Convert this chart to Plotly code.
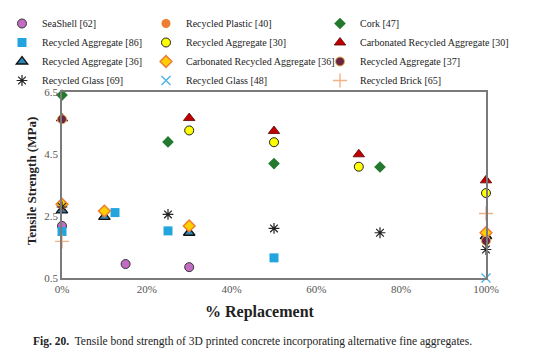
import plotly.graph_objects as go

# ---- data (x = % replacement, y = tensile bond strength, MPa) ----
seashell_x = [0, 15, 30]
seashell_y = [2.18, 0.95, 0.85]

plastic_x = [0, 100]
plastic_y = [2.85, 1.80]

cork_x = [0, 25, 50, 75]
cork_y = [6.40, 4.89, 4.19, 4.08]

ra86_x = [0, 12.5, 25, 50]
ra86_y = [2.00, 2.61, 2.02, 1.15]

ra30_x = [30, 50, 70, 100]
ra30_y = [5.26, 4.88, 4.09, 3.24]

cra30_x = [0, 30, 50, 70, 100]
cra30_y = [5.65, 5.66, 5.24, 4.49, 3.65]

ra36_x = [0, 10, 30, 100]
ra36_y = [2.68, 2.47, 1.96, 1.85]

cra36_x = [0, 10, 30, 100]
cra36_y = [2.88, 2.66, 2.18, 1.96]

ra37_x = [0, 100]
ra37_y = [5.62, 1.70]

glass69_x = [0, 25, 50, 75, 100]
glass69_y = [2.79, 2.55, 2.10, 1.96, 1.42]

glass48_x = [100]
glass48_y = [0.50]

brick65_x = [0, 100]
brick65_y = [1.68, 2.58]

y_ticks = [0.5, 2.5, 4.5, 6.5]
x_ticks = [0, 20, 40, 60, 80, 100]
x_tick_labels = ["0%", "20%", "40%", "60%", "80%", "100%"]

# name, x, y, symbol, fill, outline, outline width, size, legend column
series = [
    ("SeaShell [62]", seashell_x, seashell_y, "circle", "#C46BC4", "#333333", 1, 9, "legend"),
    ("Recycled Plastic [40]", plastic_x, plastic_y, "circle", "#ED7D31", "#ED7D31", 0, 9, "legend2"),
    ("Cork [47]", cork_x, cork_y, "diamond", "#237A2E", "#237A2E", 0, 9, "legend3"),
    ("Recycled Aggregate [86]", ra86_x, ra86_y, "square", "#22A5DE", "#22A5DE", 0, 9, "legend"),
    ("Recycled Aggregate [30]", ra30_x, ra30_y, "circle", "#FFFF00", "#222222", 1, 9, "legend2"),
    ("Carbonated Recycled Aggregate [30]", cra30_x, cra30_y, "triangle-up", "#C00000", "#5a0000", 0.8, 10, "legend3"),
    ("Recycled Aggregate [36]", ra36_x, ra36_y, "triangle-up", "#2E86B6", "#111111", 1.3, 10, "legend"),
    ("Carbonated Recycled Aggregate [36]", cra36_x, cra36_y, "diamond", "#FFD000", "#ED7D31", 1.5, 9, "legend2"),
    ("Recycled Aggregate [37]", ra37_x, ra37_y, "circle", "#6B2540", "#E6B24A", 1, 9, "legend3"),
    ("Recycled Glass [69]", glass69_x, glass69_y, "asterisk-open", "#222222", "#222222", 1.2, 9, "legend"),
    ("Recycled Glass [48]", glass48_x, glass48_y, "x-thin-open", "#4FB3E3", "#4FB3E3", 1.4, 9, "legend2"),
    ("Recycled Brick [65]", brick65_x, brick65_y, "cross-thin-open", "#F4B183", "#F4B183", 1.4, 10, "legend3"),
]

fig = go.Figure()
for name, xs, ys, sym, fill, line, lw, size, leg in series:
    fig.add_trace(go.Scatter(
        x=xs, y=ys, mode="markers", name=name, cliponaxis=False, legend=leg,
        marker=dict(symbol=sym, color=fill, size=size,
                    line=dict(color=line, width=lw)),
    ))

serif = "Liberation Serif, Times New Roman, serif"
# page has an 8px body margin, so the figure is sized to fill the rest
W, H = 534, 353
L, R, T, B = 54, 56, 84, 83
PW, PH = W - L - R, H - T - B


def leg(xpx, ypx):
    return dict(
        orientation="v", xref="paper", yref="paper",
        x=(xpx - L) / PW, y=(H - B - ypx) / PH, xanchor="left", yanchor="top",
        itemwidth=30, font=dict(family=serif, size=10, color="#222222"),
        tracegroupgap=0, bgcolor="rgba(0,0,0,0)", borderwidth=0,
    )


fig.update_layout(
    width=W, height=H,
    margin=dict(l=L, r=R, t=T, b=B, autoexpand=False),
    paper_bgcolor="white", plot_bgcolor="white",
    font=dict(family=serif, size=11, color="#333333"),
    showlegend=True,
    legend=leg(-6, 1),
    legend2=leg(138, 1),
    legend3=leg(312, 1),
    xaxis=dict(
        range=[0, 100], tickvals=x_ticks, ticktext=x_tick_labels,
        showgrid=False, zeroline=False, showline=True, mirror=True,
        linecolor="#7a7a7a", linewidth=1.5, ticks="",
        tickfont=dict(family=serif, size=11, color="#555555"),
    ),
    yaxis=dict(
        range=[0.5, 6.5], tickvals=y_ticks, tickformat=".1f",
        showgrid=False, zeroline=False, showline=True, mirror=True,
        linecolor="#7a7a7a", linewidth=1.5, ticks="",
        tickfont=dict(family=serif, size=11, color="#555555"),
    ),
    annotations=[
        dict(text="<b>Tensile Strength (MPa)</b>", xref="paper", yref="paper",
             x=-0.073, y=0.52, textangle=-90, xanchor="center", yanchor="middle",
             showarrow=False, font=dict(family=serif, size=13, color="#222222")),
        dict(text="<b>% Replacement</b>", xref="paper", yref="paper",
             x=0.467, y=-0.181, xanchor="center", yanchor="middle", showarrow=False,
             font=dict(family=serif, size=16, color="#222222")),
        dict(text="<b>Fig. 20.</b>  Tensile bond strength of 3D printed concrete incorporating alternative fine aggregates.",
             xref="paper", yref="paper", x=-0.072, y=-0.342, xanchor="left", yanchor="middle",
             showarrow=False, font=dict(family=serif, size=11.5, color="#222222")),
    ],
)

fig.write_html("out.html")
